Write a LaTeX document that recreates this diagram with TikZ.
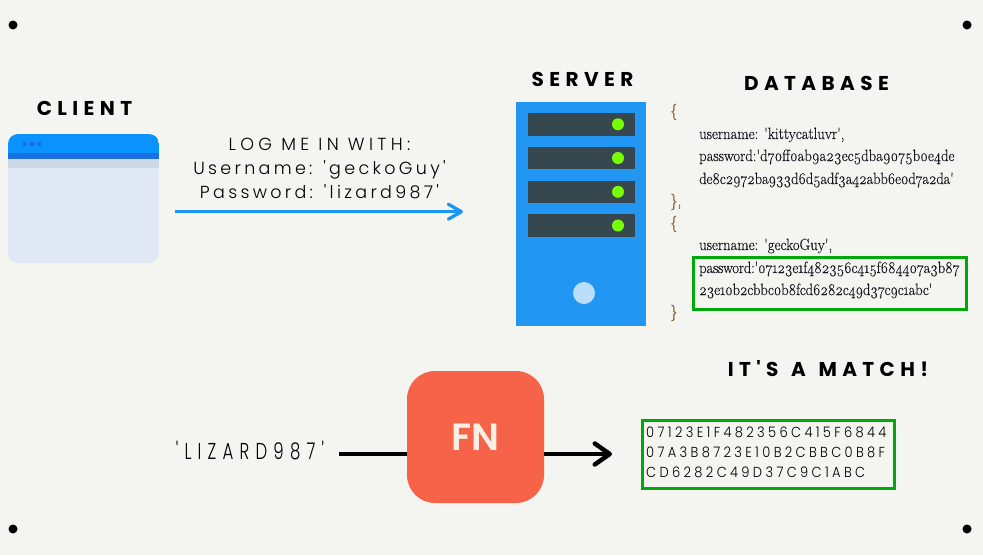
\documentclass[tikz,border=0pt]{standalone}
\usepackage{fontspec}
\usetikzlibrary{arrows.meta}
\newfontfamily\titlefont[LetterSpace=27]{Poppins Bold}
\newfontfamily\lightfont[LetterSpace=19]{Poppins Light}
\newfontfamily\logfont[LetterSpace=25]{Poppins Light}
\newfontfamily\narrowfont[LetterSpace=27,FakeStretch=0.72]{Poppins Light}
\newfontfamily\hashfont[LetterSpace=23,FakeStretch=0.9]{Poppins Light}
\newfontfamily\dbfont[Numbers=OldStyle,FakeStretch=0.9,FakeBold=0.25]{Latin Modern Roman}
\newfontfamily\dbtight[Numbers=OldStyle,FakeStretch=0.9,FakeBold=0.25,LetterSpace=-1.3]{Latin Modern Roman}
\newfontfamily\fnfont{Poppins SemiBold}
\definecolor{paper}{HTML}{F4F5F0}
\definecolor{winblue}{HTML}{0A93FF}
\definecolor{winstripe}{HTML}{1C6FE0}
\definecolor{winshade}{HTML}{CDD8E5}
\definecolor{winbody}{HTML}{DFE8F4}
\definecolor{servblue}{HTML}{2196F3}
\definecolor{servbar}{HTML}{37474F}
\definecolor{led}{HTML}{76FF03}
\definecolor{knob}{HTML}{BBDEFB}
\definecolor{matchgreen}{HTML}{00A80A}
\definecolor{fnred}{HTML}{F66348}
\definecolor{fncream}{HTML}{F8F0E6}
\definecolor{arrowblue}{HTML}{1A96F5}
\definecolor{brace}{HTML}{7A5520}
\definecolor{dbtext}{HTML}{14141C}
\tikzset{
  x=1pt,y=-1pt,
  corner/.style={circle,fill=black,minimum size=9pt,inner sep=0pt},
  title/.style={font=\titlefont\fontsize{20}{24}\selectfont,inner sep=0pt,anchor=base},
  msg/.style={font=\lightfont\fontsize{17.5}{24}\selectfont,inner sep=0pt,anchor=base,align=center},
  db/.style={font=\dbfont\fontsize{16.3}{18}\selectfont,text=dbtext,inner sep=0pt,anchor=base west},
  dbnum/.style={db,font=\dbtight\fontsize{16.3}{18}\selectfont},
  dbbrace/.style={db,text=brace},
  bar/.style={fill=servbar,minimum width=107.5pt,minimum height=22.5pt,inner sep=0pt},
  ledlamp/.style={circle,fill=led,minimum size=12pt,inner sep=0pt},
  matchbox/.style={draw=matchgreen,line width=3pt,fill=none,inner sep=0pt},
  flow/.style={line width=3.3pt,draw=arrowblue,-{Straight Barb[length=13pt,width=15pt,line width=3.3pt,round]}},
  hashflow/.style={line width=4.5pt,draw=black,-{Straight Barb[length=15pt,width=21pt,line width=4.5pt,round]}},
  hashline/.style={line width=4.5pt,draw=black}
}
\begin{document}
\begin{tikzpicture}
\useasboundingbox (0,0) rectangle (983,555);
\fill[paper] (0,0) rectangle (983,555);
% corner dots
\node[corner] (c1) at (13,25) {};
\node[corner] (c2) at (967,25) {};
\node[corner] (c3) at (13,529) {};
\node[corner] (c4) at (967,529) {};
% titles
\node[title] (tclient) at (84.5,115) {CLIENT};
\node[title] (tserver) at (582.5,86) {SERVER};
\node[title] (tdb) at (816.5,90.5) {DATABASE};
\node[title] (tmatch) at (828,376) {IT'S\hspace{3pt} A\hspace{3pt} MATCH!};
% client window
\node[minimum width=151pt,minimum height=129pt,inner sep=0pt,rounded corners=10pt,fill=winbody] (client) at (83.5,198.5) {};
\begin{scope}
\clip[rounded corners=10pt] (8,134) rectangle (159,263);
\fill[winblue] (8,134) rectangle (159,153);
\fill[winstripe] (8,153) rectangle (159,159);
\fill[winshade] (8,159) rectangle (159,168);
\end{scope}
\foreach \i in {25,32,39}{\fill[winstripe] (\i-2,142) rectangle (\i+2,146);}
% server
\node[fill=servblue,minimum width=130pt,minimum height=224pt,inner sep=0pt] (server) at (581,214) {};
\foreach \n/\y in {1/124.3,2/158,3/191.8,4/225.5}{
  \node[bar] (bar\n) at (581.3,\y) {};
  \node[ledlamp] (led\n) at (618,\y) {};
}
\node[circle,fill=knob,minimum size=22pt,inner sep=0pt] (knobc) at (584,293) {};
% login message
\node[msg,font=\logfont\fontsize{17.5}{24}\selectfont] (m1) at (319.5,150) {LOG ME IN WITH:};
\node[msg] (m2) at (319.5,174) {Username: 'geckoGuy'};
\node[msg] (m3) at (319.5,198) {Password: 'lizard987'};
\coordinate (af) at (175,211.7);
\coordinate (at) at (463,211.7);
\draw[flow] (af) -- (at);
% database
\node[dbbrace] (b1) at (670,116) {\{};
\node[db] (d1) at (699,139) {username: 'kittycatluvr',};
\node[db] (d2) at (699,161) {password:'d70ff0ab9a23ec5dba9075b0e4de};
\node[dbnum] (d3) at (699,184) {de8c2972ba933d6d5adf3a42abb6e0d7a2da'};
\node[dbbrace] (b2) at (670,206) {\},};
\node[dbbrace] (b3) at (670,228) {\{};
\node[db] (d4) at (699,250) {username: 'geckoGuy',};
\node[dbnum] (d5) at (699,273) {password:'07123e1f482356c415f684407a3b87};
\node[dbnum] (d6) at (699,295) {23e10b2cbbc0b8fcd6282c49d37c9c1abc'};
\node[dbbrace] (b4) at (670,317) {\}};
\node[matchbox,minimum width=273pt,minimum height=52pt] (dbmatch) at (829.5,283) {};
% function
\node[fill=fnred,minimum width=137pt,minimum height=132pt,inner sep=0pt,rounded corners=28pt,text=fncream,font=\fnfont\fontsize{38}{40}\selectfont] (fn) at (475.5,437) {FN};
\node[font=\narrowfont\fontsize{23}{26}\selectfont,inner sep=0pt,anchor=base] (liz) at (250,459) {'LIZARD987'};
\coordinate (ls) at (339,454);
\coordinate (le) at (612,454);
\draw[hashline] (ls) -- (ls-|fn.west);
\draw[hashflow] (fn.east|-le) -- (le);
% hash result
\node[matchbox,minimum width=252pt,minimum height=68pt] (hash) at (768,454) {};
\node[font=\hashfont\fontsize{14.5}{20}\selectfont,inner sep=0pt,anchor=north west,align=left,text=black] (hasht) at (646,427) {07123E1F482356C415F6844\\07A3B8723E10B2CBBC0B8F\\CD6282C49D37C9C1ABC};
\end{tikzpicture}
\end{document}
